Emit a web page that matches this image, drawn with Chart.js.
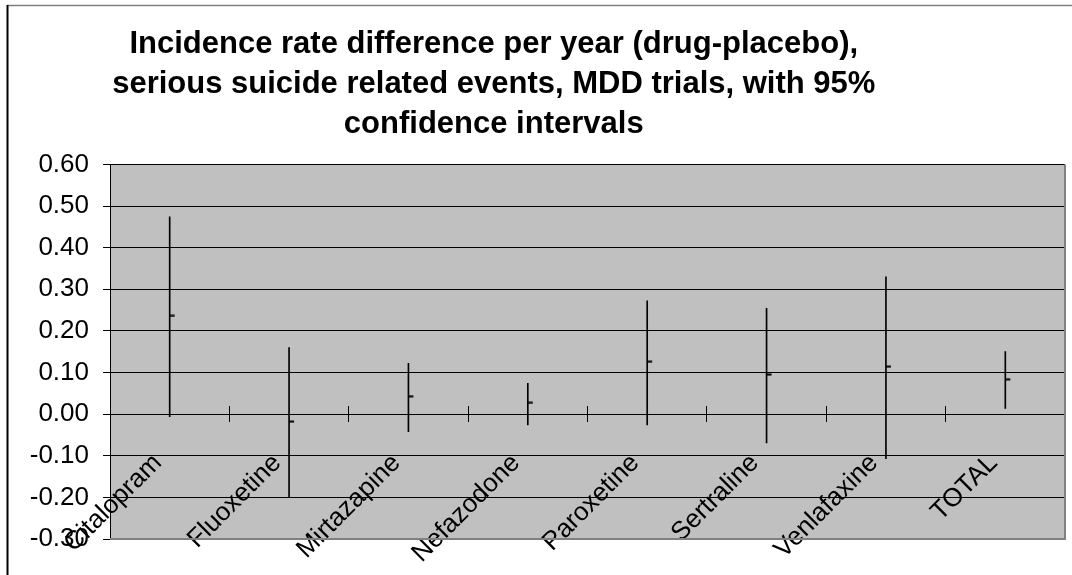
<!DOCTYPE html>
<html>
<head>
<meta charset="utf-8">
<script src="https://cdn.jsdelivr.net/npm/chart.js@4.4.1/dist/chart.umd.min.js"></script>
<style>
  html, body { margin: 0; padding: 0; background: #fff; }
</style>
</head>
<body>
<canvas id="chart" width="1072" height="575"></canvas>
<script>
// valores (diferencia de tasa por año, IC 95%)
const drugs = ['Citalopram', 'Fluoxetine', 'Mirtazapine', 'Nefazodone', 'Paroxetine', 'Sertraline', 'Venlafaxine', 'TOTAL'];
const upper = [0.474, 0.160, 0.122, 0.074, 0.272, 0.254, 0.330, 0.150];
const lower = [-0.006, -0.199, -0.042, -0.026, -0.026, -0.069, -0.107, 0.014];
const means = [0.236, -0.018, 0.043, 0.027, 0.126, 0.095, 0.114, 0.084];
const titleLines = [
    'Incidence rate difference per year (drug-placebo),',
    'serious suicide related events, MDD trials, with 95%',
    'confidence intervals'
];

const FONT = "'Liberation Sans', Arial, sans-serif";

// marca de cierre (tick a la derecha de la linea)
function makeCloseTick() {
    const c = document.createElement('canvas');
    c.width = 12;
    c.height = 3;
    const g = c.getContext('2d');
    g.fillStyle = '#000';
    g.fillRect(6, 0.5, 5, 2);
    return c;
}

const framePlugin = {
    id: 'frame',
    beforeDraw(chart) {
        const { ctx, chartArea: a } = chart;
        ctx.save();
        ctx.fillStyle = '#fff';
        ctx.fillRect(0, 0, chart.width, chart.height);
        ctx.fillStyle = '#c0c0c0';
        ctx.fillRect(a.left, a.top, a.right - a.left, a.bottom - a.top);
        ctx.restore();
    },
    afterDraw(chart) {
        const { ctx, chartArea: a } = chart;
        ctx.save();
        // borde del area de trazado
        ctx.strokeStyle = '#808080';
        ctx.lineWidth = 2;
        ctx.beginPath();
        ctx.moveTo(a.right, a.top);
        ctx.lineTo(a.right, a.bottom);
        ctx.lineTo(a.left, a.bottom);
        ctx.stroke();
        // borde exterior
        ctx.lineWidth = 1.5;
        ctx.beginPath();
        ctx.moveTo(7, 5.5);
        ctx.lineTo(chart.width, 5.5);
        ctx.stroke();
        ctx.strokeStyle = '#000';
        ctx.lineWidth = 2;
        ctx.beginPath();
        ctx.moveTo(7.5, 5);
        ctx.lineTo(7.5, chart.height);
        ctx.stroke();
        ctx.restore();
    }
};

const config = {
    data: {
        labels: drugs,
        datasets: [{
            type: 'bar',
            data: drugs.map((d, i) => [lower[i], upper[i]]),
            backgroundColor: '#000',
            barThickness: 1,
            order: 2
        }, {
            type: 'line',
            data: means,
            showLine: false,
            pointStyle: makeCloseTick(),
            pointRadius: 6,
            order: 1
        }]
    },
    options: {
        responsive: false,
        animation: false,
        layout: {
            padding: { left: -80, right: 4.5, top: 0, bottom: 36 }
        },
        plugins: {
            legend: { display: false },
            tooltip: { enabled: false },
            title: {
                display: true,
                text: titleLines,
                color: '#000',
                font: { family: FONT, size: 31, weight: 'bold', lineHeight: '40px' },
                padding: { top: 24, bottom: 20.4 }
            }
        },
        scales: {
            x: {
                type: 'category',
                position: { y: 0.02 },
                offset: true,
                z: 1,
                grid: {
                    offset: true,
                    drawOnChartArea: false,
                    color: '#000',
                    tickLength: 16
                },
                border: { display: false },
                ticks: {
                    autoSkip: false,
                    minRotation: 45,
                    maxRotation: 45,
                    padding: 26,
                    labelOffset: -12,
                    color: '#000',
                    font: { family: FONT, size: 26 }
                }
            },
            y: {
                min: -0.3,
                max: 0.6,
                z: 1,
                afterFit: function (scale) {
                    scale.width = 190;
                },
                grid: { color: '#000', tickLength: 7 },
                border: { color: '#000', width: 1 },
                ticks: {
                    stepSize: 0.1,
                    padding: 14,
                    color: '#000',
                    font: { family: FONT, size: 26 },
                    callback: function (value) {
                        return value.toFixed(2);
                    }
                }
            }
        }
    },
    plugins: [framePlugin]
};

const ctx = document.getElementById('chart').getContext('2d');
new Chart(ctx, config);
</script>
</body>
</html>
